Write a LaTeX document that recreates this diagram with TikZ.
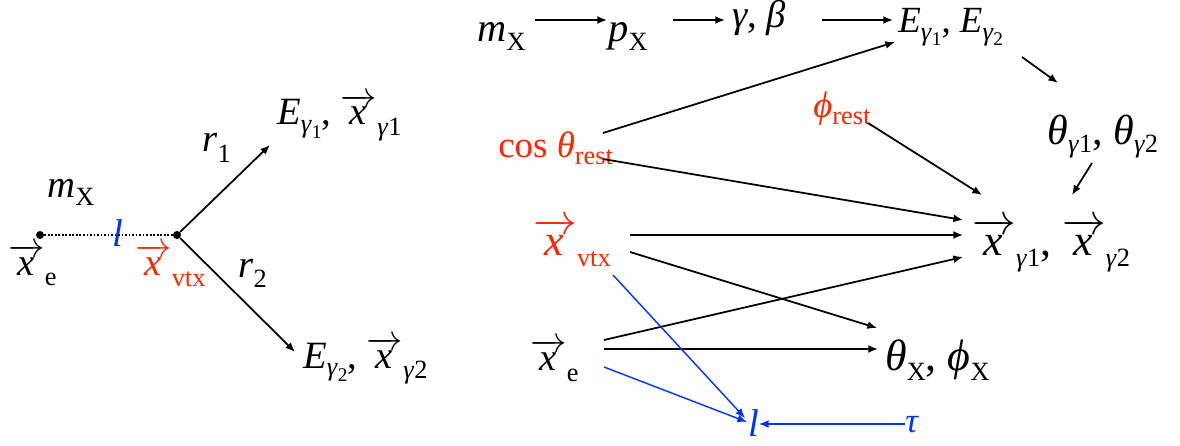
\documentclass[tikz,border=0pt]{standalone}
\usepackage{amsmath}
\usepackage{fontspec}
\setmainfont{LiberationSerif}[Extension=.ttf, UprightFont=*-Regular, ItalicFont=*-Italic, BoldFont=*-Bold, BoldItalicFont=*-BoldItalic]
\usepackage{tikz}
\usetikzlibrary{arrows.meta, calc}
\definecolor{VtxRed}{RGB}{255, 38, 0}
\definecolor{LenBlue}{RGB}{0, 51, 255}
\newcommand{\fsize}[1]{\fontsize{#1}{#1}\selectfont}
\newcommand{\vx}{\ensuremath{\overrightarrow{\kern1pt\textit{x}\kern2pt}}}
\newcommand{\sub}[2][5pt]{\raisebox{-#1}{\fsize{15}#2}}
\newcommand{\subsub}[1]{\raisebox{-3pt}{\fsize{11}#1}}
\newcommand{\gam}{\textit{γ}}

\begin{document}
\begin{tikzpicture}[
    x=0.02cm, y=-0.02cm,
    txt/.style={anchor=base west, inner sep=0pt, font=\fsize{22}},
    dot/.style={circle, fill=black, inner sep=0pt, minimum size=0.16cm},
    arrow/.style={-{Latex[length=5.5pt, width=4.5pt]}, line width=1pt},
    bluearrow/.style={-{Latex[length=5.5pt, width=4.5pt]}, line width=0.8pt, draw=LenBlue}
]
\useasboundingbox (0,0) rectangle (1180,446);

% decay sketch
\node (dotE) [dot] at (40,235) {};
\node (dotV) [dot] at (177,235) {};
\node (mxL) [txt] at (47,197) {\textit{m}\sub{X}};
\node (lenL) [txt, text=LenBlue] at (112,246) {\textit{l}};
\node (xeL) [txt] at (8,275) {\vx\sub[5.7pt]{e}};
\node (vtxL) [txt, text=VtxRed] at (135,275) {\vx\sub[6.8pt]{vtx}};
\node (rA) [txt] at (202,152) {\textit{r}\sub[5.7pt]{1}};
\node (rB) [txt] at (238,277) {\textit{r}\sub[5.7pt]{2}};
\node (phA) [txt] at (277,125) {\textit{E}\sub[4.5pt]{\gam\subsub{1}}, \vx\sub[6pt]{\gam1}};
\node (phB) [txt] at (303,368) {\textit{E}\sub[4.5pt]{\gam\subsub{2}}, \vx\sub[6pt]{\gam2}};

\draw [line width=0.8pt, dash pattern=on 1pt off 1pt] (dotE) -- (dotV);
\draw [arrow] (dotV) -- ($(phA.base west)+(-7,20)$);
\draw [arrow] (dotV) -- ($(phB.base west)+(-8,-16)$);

% dependency graph
\node (mxR) [txt, font=\fsize{23}] at (477,42) {\textit{m}\sub{X}};
\node (pxR) [txt, font=\fsize{23}] at (608,42) {\textit{p}\sub{X}};
\node (gbR) [txt, font=\fsize{22}] at (732,28) {\textit{γ}, \textit{β}};
\node (EER) [txt, font=\fsize{21}] at (898,33) {\textit{E}\sub[4pt]{\gam\subsub{1}}, \textit{E}\sub[4pt]{\gam\subsub{2}}};
\node (thgR) [txt, font=\fsize{24}] at (1047,145) {\textit{θ}\sub[4pt]{\gam1}, \textit{θ}\sub[4pt]{\gam2}};
\node (cosR) [txt, font=\fsize{21}, text=VtxRed] at (498,157) {cos \textit{θ}\sub[4.5pt]{rest}};
\node (phiR) [txt, font=\fsize{21}, text=VtxRed] at (813,118) {\textit{ϕ}\sub[3.5pt]{rest}};
\node (xgR) [txt, font=\fsize{25}] at (972,255) {\vx\sub[6.8pt]{\gam1}, \vx\sub[6.8pt]{\gam2}};
\node (vtxR) [txt, font=\fsize{25}, text=VtxRed] at (533,255) {\vx\sub[6.8pt]{vtx}};
\node (xeR) [txt, font=\fsize{22}] at (530,370) {\vx\sub[6.8pt]{e}};
\node (thXR) [txt, font=\fsize{25}] at (885,370) {\textit{θ}\sub[5.7pt]{X}, \textit{ϕ}\sub[5.7pt]{X}};
\node (lenR) [txt, text=LenBlue] at (748,436) {\textit{l}};
\node (tauR) [txt, font=\fsize{20}, text=LenBlue] at (905,432) {\textit{τ}};

\draw [arrow] ($(mxR.base west)+(58,-22)$) -- ($(pxR.base west)+(-1,-22)$);
\draw [arrow] ($(pxR.base west)+(65,-22)$) -- ($(gbR.base west)+(-7,-8)$);
\draw [arrow] ($(gbR.base west)+(90,-8)$) -- ($(EER.base west)+(-5,-13)$);
\draw [arrow] ($(EER.base west)+(124,24)$) -- ($(thgR.base west)+(11,-62)$);
\draw [arrow] ($(thgR.base west)+(45,18)$) -- ($(xgR.base west)+(100,-60)$);
\draw [arrow] ($(phiR.base west)+(55,5)$) -- ($(xgR.base west)+(10,-60)$);
\draw [arrow] ($(cosR.base west)+(105,-24)$) -- ($(EER.base west)+(-3,9)$);
\draw [arrow] ($(cosR.base west)+(105,2)$) -- ($(xgR.base west)+(-9,-35)$);
\draw [arrow] ($(vtxR.base west)+(97,-20)$) -- ($(xgR.base west)+(-9,-20)$);
\draw [arrow] ($(vtxR.base west)+(97,-3)$) -- ($(thXR.base west)+(-8,-42)$);
\draw [arrow] ($(xeR.base west)+(74,-30)$) -- ($(xgR.base west)+(-9,2)$);
\draw [arrow] ($(xeR.base west)+(74,-21)$) -- ($(thXR.base west)+(-7,-21)$);
\draw [bluearrow] ($(vtxR.base west)+(80,20)$) -- ($(lenR.base west)+(-3,-18)$);
\draw [bluearrow] ($(xeR.base west)+(74,-3)$) -- ($(lenR.base west)+(-1,-14)$);
\draw [bluearrow] ($(tauR.base west)+(0,-8)$) -- ($(lenR.base west)+(11,-12)$);

\end{tikzpicture}
\end{document}
